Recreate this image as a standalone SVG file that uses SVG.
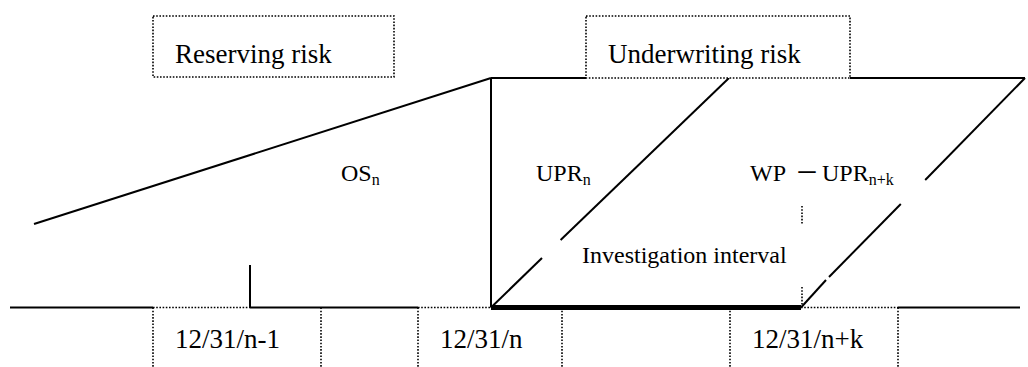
<svg xmlns="http://www.w3.org/2000/svg" width="1028" height="367" viewBox="0 0 1028 367">
  <style>
    .ln { stroke: #000; stroke-width: 2; fill: none; stroke-linecap: butt; }
    .thick { stroke: #000; stroke-width: 5; fill: none; }
    .dot { stroke: #000; stroke-width: 1.6; stroke-dasharray: 1.6 1.6; fill: none; }
    .box { stroke: #000; stroke-width: 1.6; stroke-dasharray: 1.6 1.6; fill: #fff; }
    .t { font-family: "Liberation Serif", "Times New Roman", serif; fill: #000; }
    .big { font-size: 27px; }
    .mid { font-size: 24px; }
    .sub { font-size: 16px; }
    .cjk { font-family: "Liberation Serif", "Noto Sans CJK SC", serif; }
  </style>
  <rect width="1028" height="367" fill="#fff"/>

  <!-- time axis, curves and frame lines -->
  <g id="connectors">
    <!-- baseline segments -->
    <line class="ln" x1="10" y1="307.5" x2="153" y2="307.5"/>
    <line class="dot" x1="153" y1="307.5" x2="250" y2="307.5"/>
    <line class="ln" x1="250" y1="307.5" x2="418" y2="307.5"/>
    <line class="dot" x1="418" y1="307.5" x2="491" y2="307.5"/>
    <line class="thick" x1="491" y1="307.5" x2="801" y2="307.5"/>
    <line class="dot" x1="801" y1="307.5" x2="898" y2="307.5"/>
    <line class="ln" x1="898" y1="307.5" x2="1020" y2="307.5"/>

    <!-- short tick -->
    <line class="ln" x1="250" y1="265" x2="250" y2="307.5"/>

    <!-- outstanding claims slope -->
    <line class="ln" x1="34" y1="224" x2="491" y2="78"/>

    <!-- vertical at 12/31/n -->
    <line class="ln" x1="491" y1="78" x2="491" y2="307.5"/>

    <!-- top line -->
    <line class="ln" x1="491" y1="78" x2="586" y2="78"/>
    <line class="ln" x1="850" y1="78" x2="1025" y2="78"/>

    <!-- left diagonal (with gap under label) -->
    <line class="ln" x1="491" y1="307.5" x2="542" y2="258"/>
    <line class="ln" x1="560.6" y1="240" x2="729" y2="78"/>

    <!-- right diagonal (with gaps under labels) -->
    <line class="ln" x1="1025" y1="78" x2="925.2" y2="180"/>
    <line class="ln" x1="900.8" y1="204" x2="829" y2="277"/>
    <line class="ln" x1="826" y1="280" x2="801" y2="307.5"/>

    <!-- dotted marks at 12/31/n+k -->
    <line class="dot" x1="802" y1="206" x2="802" y2="224"/>
    <line class="dot" x1="802" y1="287" x2="802" y2="307"/>
  </g>

  <g id="reserving-risk">
    <rect class="box" x="153" y="16" width="241" height="61"/>
    <text class="t big" x="175" y="63">Reserving risk</text>
  </g>

  <g id="underwriting-risk">
    <rect class="box" x="586" y="16" width="264" height="62"/>
    <text class="t big" x="608" y="63">Underwriting risk</text>
  </g>

  <g id="os-n">
    <text class="t mid" x="341" y="181">OS<tspan class="sub" dy="4">n</tspan></text>
  </g>

  <g id="upr-n">
    <text class="t mid" x="536" y="181">UPR<tspan class="sub" dy="4">n</tspan></text>
  </g>

  <g id="wp-upr-nk">
    <text class="t mid" x="750" y="181">WP</text>
    <text class="t mid cjk" x="795" y="181">－</text>
    <text class="t mid" x="822" y="181">UPR<tspan class="sub" dy="4">n+k</tspan></text>
  </g>

  <g id="investigation-interval">
    <text class="t mid" x="582" y="263">Investigation interval</text>
  </g>

  <g id="date-n-1">
    <line class="dot" x1="153" y1="307.5" x2="153" y2="367"/>
    <line class="dot" x1="321" y1="307.5" x2="321" y2="367"/>
    <text class="t big" x="175" y="348">12/31/n-1</text>
  </g>

  <g id="date-n">
    <line class="dot" x1="418" y1="307.5" x2="418" y2="367"/>
    <line class="dot" x1="562" y1="307.5" x2="562" y2="367"/>
    <text class="t big" x="440" y="348">12/31/n</text>
  </g>

  <g id="date-n-k">
    <line class="dot" x1="730" y1="307.5" x2="730" y2="367"/>
    <line class="dot" x1="898" y1="307.5" x2="898" y2="367"/>
    <text class="t big" x="752" y="348">12/31/n+k</text>
  </g>
</svg>
